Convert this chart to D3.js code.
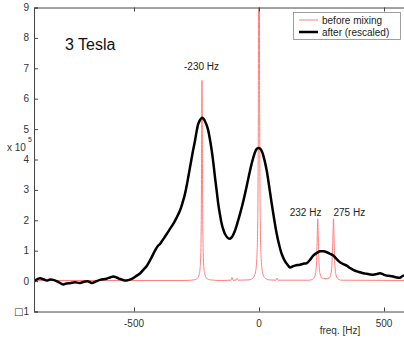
<!DOCTYPE html>
<html>
<head>
<meta charset="utf-8">
<script src="https://cdn.jsdelivr.net/npm/d3@7"></script>
<style>
  body { margin: 0; background: #fff; }
  text { font-family: "Liberation Sans", Arial, sans-serif; }
</style>
</head>
<body>
<div id="chart"></div>
<script>
// data: [freq Hz, value x 1e5]
const beforeMixing = [
  [-904,0.02],[-600,0.02],[-300,0.02],[-260,0.04],[-248,0.08],[-240,0.2],[-236,0.4],[-233,0.9],
  [-231,2.0],[-229.5,4.5],[-228,6.6],[-226.5,4.5],[-225,2.0],[-223,0.9],[-220,0.4],[-216,0.2],
  [-208,0.08],[-195,0.04],[-150,0.02],[-112,0.03],[-108,0.12],[-104,0.03],[-92,0.03],[-88,0.09],
  [-84,0.03],[-40,0.04],[-22,0.12],[-14,0.3],[-9,0.7],[-5,2.0],[-2.5,6],[0,20],[2.5,6],[5,2.0],
  [9,0.7],[14,0.3],[22,0.12],[40,0.04],[68,0.03],[72,0.1],[76,0.03],[200,0.03],[218,0.08],
  [226,0.25],[230,0.6],[233,1.5],[235,2.05],[237,1.5],[240,0.6],[244,0.25],[252,0.1],[266,0.08],
  [281,0.1],[288,0.25],[292,0.6],[296,1.5],[298,2.05],[300,1.5],[303,0.6],[307,0.25],[315,0.08],
  [330,0.03],[600,0.02]
];
const afterRescaled = [
  [-904,-0.04],[-890,0.05],[-876,0.09],[-862,0.06],[-849,0.02],[-836,0.05],[-823,0.04],[-803,-0.03],
  [-783,-0.11],[-770,-0.08],[-756,-0.07],[-736,-0.04],[-716,-0.06],[-700,-0.02],[-683,-0.01],
  [-669,-0.06],[-652,-0.01],[-636,0.04],[-610,0.08],[-596,0.12],[-583,0.15],[-570,0.12],[-556,0.07],
  [-542,0.03],[-529,0.02],[-509,0.07],[-489,0.18],[-476,0.25],[-463,0.37],[-449,0.5],[-436,0.68],
  [-416,1.0],[-403,1.17],[-396,1.22],[-383,1.38],[-369,1.55],[-356,1.72],[-343,1.88],[-330,2.08],
  [-316,2.32],[-306,2.57],[-296,2.87],[-286,3.28],[-276,3.74],[-266,4.2],[-256,4.62],[-249,4.95],
  [-243,5.17],[-236,5.3],[-229,5.37],[-222,5.34],[-216,5.26],[-209,5.12],[-203,4.95],[-196,4.65],
  [-189,4.29],[-182,3.85],[-176,3.41],[-169,2.95],[-163,2.54],[-156,2.18],[-149,1.88],[-143,1.7],
  [-136,1.55],[-126,1.43],[-116,1.39],[-106,1.48],[-96,1.66],[-86,1.92],[-76,2.21],[-66,2.52],
  [-56,2.87],[-46,3.25],[-36,3.63],[-26,3.97],[-16,4.24],[-9,4.35],[-3,4.38],[4,4.36],[13,4.24],
  [22,3.98],[31,3.63],[41,3.1],[51,2.54],[61,2.02],[71,1.55],[81,1.18],[91,0.89],[101,0.7],
  [111,0.57],[124,0.45],[134,0.48],[144,0.51],[164,0.54],[177,0.57],[191,0.59],[204,0.7],[217,0.84],
  [230,0.92],[244,0.98],[257,0.98],[271,0.95],[284,0.9],[297,0.84],[310,0.73],[324,0.62],[337,0.56],
  [351,0.51],[364,0.43],[377,0.37],[391,0.32],[404,0.29],[418,0.26],[431,0.24],[444,0.22],[457,0.21],
  [470,0.23],[484,0.26],[497,0.22],[511,0.18],[524,0.17],[537,0.15],[550,0.12],[564,0.11],[577,0.18],
  [590,0.14]
];
const xTicks = [-500, 0, 500];
const yTicks = [-1, 0, 1, 2, 3, 4, 5, 6, 7, 8, 9];
const yTickLabels = ['1', '0', '1', '2', '3', '4', '5', '6', '7', '8', '9'];
const peakLabels = [
  { f: -230, v: 6.95, text: '-230 Hz', anchor: 'middle' },
  { f: 155, v: 2.15, text: '232 Hz', anchor: 'start' },
  { f: 330, v: 2.15, text: '275 Hz', anchor: 'start' }
];
const seriesNames = ['before mixing', 'after (rescaled)'];

const width = 404, height = 339;
const x = d3.scaleLinear().domain([-900, 600]).range([34, 409]);
const y = d3.scaleLinear().domain([-1, 9]).range([311.5, 7.5]);
const axisColor = '#444';

const svg = d3.select('#chart').append('svg')
  .attr('width', width)
  .attr('height', height);

svg.append('clipPath').attr('id', 'plot-clip')
  .append('rect')
  .attr('x', x(-900)).attr('y', y(9))
  .attr('width', x(600) - x(-900)).attr('height', y(-1) - y(9));

const line = d3.line()
  .x(d => x(d[0]))
  .y(d => y(d[1]));

const plot = svg.append('g').attr('clip-path', 'url(#plot-clip)');

plot.append('path')
  .datum(beforeMixing)
  .attr('d', line.curve(d3.curveMonotoneX))
  .attr('fill', 'none')
  .attr('stroke', '#ff7f7f')
  .attr('stroke-width', 1);

plot.append('path')
  .datum(afterRescaled)
  .attr('d', line.curve(d3.curveCatmullRom))
  .attr('fill', 'none')
  .attr('stroke', '#000')
  .attr('stroke-width', 2.5)
  .attr('stroke-linejoin', 'round');

// axes (ticks pointing inward, matlab style)
const xAxis = svg.append('g')
  .attr('transform', `translate(0,${y(-1)})`)
  .call(d3.axisTop(x).tickValues(xTicks).tickSize(4).tickFormat(''));
xAxis.select('.domain').attr('stroke', axisColor);
xAxis.selectAll('.tick line').attr('stroke', axisColor);

svg.append('g')
  .attr('transform', `translate(0,${y(9)})`)
  .call(d3.axisBottom(x).tickValues(xTicks).tickSize(4).tickFormat(''))
  .call(g => g.select('.domain').attr('stroke', axisColor))
  .call(g => g.selectAll('.tick line').attr('stroke', axisColor));

svg.selectAll('.x-label')
  .data(xTicks)
  .enter()
  .append('text')
  .attr('class', 'x-label')
  .attr('x', d => x(d))
  .attr('y', 327)
  .attr('text-anchor', 'middle')
  .attr('font-size', '10px')
  .attr('fill', '#333')
  .text(d => d);

const yAxis = svg.append('g')
  .attr('transform', `translate(${x(-900)},0)`)
  .call(d3.axisRight(y).tickValues(yTicks).tickSize(4).tickFormat(''));
yAxis.select('.domain').attr('stroke', axisColor);
yAxis.selectAll('.tick line').attr('stroke', axisColor);

const yLabels = svg.selectAll('.y-label')
  .data(yTicks)
  .enter()
  .append('text')
  .attr('class', 'y-label')
  .attr('x', 29)
  .attr('y', d => y(d) + 3.5)
  .attr('text-anchor', 'end')
  .attr('font-size', '10px')
  .attr('fill', '#333');
// the minus sign of -1 shows as a missing-glyph box in the original
yLabels.filter(d => d < 0)
  .append('tspan')
  .attr('font-family', '"DejaVu Sans", sans-serif')
  .attr('font-size', '10px')
  .text('\u25A1');
yLabels.append('tspan')
  .text((d, i) => yTickLabels[i]);

// exponent label
svg.append('text')
  .attr('x', 7).attr('y', 151)
  .attr('font-size', '10px').attr('fill', '#333')
  .text('x 10');
svg.append('text')
  .attr('x', 28).attr('y', 142)
  .attr('font-size', '7px').attr('fill', '#333')
  .text('5');

svg.append('text')
  .attr('x', 340).attr('y', 334)
  .attr('text-anchor', 'middle')
  .attr('font-size', '10px').attr('fill', '#333')
  .text('freq. [Hz]');

svg.append('text')
  .attr('x', 65).attr('y', 50)
  .attr('font-size', '16px').attr('fill', '#111')
  .text('3 Tesla');

svg.selectAll('.peak-label')
  .data(peakLabels)
  .enter()
  .append('text')
  .attr('class', 'peak-label')
  .attr('x', d => d.anchor === 'start' ? x(d.f) - 8 : x(d.f))
  .attr('y', d => y(d.v))
  .attr('text-anchor', d => d.anchor)
  .attr('font-size', '10px')
  .attr('fill', '#222')
  .text(d => d.text);

// legend
const legend = svg.append('g');
legend.append('rect')
  .attr('x', 293.5).attr('y', 12.5)
  .attr('width', 107).attr('height', 27)
  .attr('fill', '#fff')
  .attr('stroke', '#888')
  .attr('stroke-width', 0.8);
const legendColors = ['#ff7f7f', '#000'];
const legendWidths = [1, 2.5];
seriesNames.forEach((name, i) => {
  const ly = 20 + i * 12;
  legend.append('line')
    .attr('x1', 299).attr('x2', 318)
    .attr('y1', ly).attr('y2', ly)
    .attr('stroke', legendColors[i])
    .attr('stroke-width', legendWidths[i]);
  legend.append('text')
    .attr('x', 322).attr('y', ly + 3.5)
    .attr('font-size', '10px').attr('fill', '#222')
    .text(name);
});
</script>
</body>
</html>
